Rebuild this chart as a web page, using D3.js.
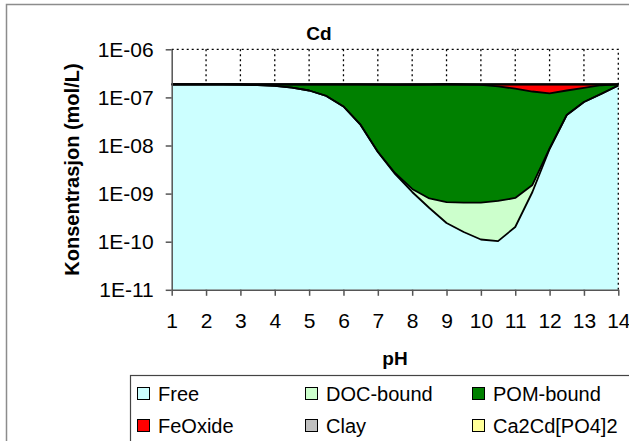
<!DOCTYPE html>
<html>
<head>
<meta charset="utf-8">
<script src="https://cdn.jsdelivr.net/npm/d3@7/dist/d3.min.js"></script>
<style>
  html, body { margin: 0; padding: 0; background: #fff; }
  svg { display: block; font-family: "Liberation Sans", Arial, sans-serif; }
</style>
</head>
<body>
<svg id="chart" width="629" height="441"></svg>
<script>
// ---- data ----
const pH = [1,1.5,2,2.5,3,3.5,4,4.5,5,5.5,6,6.5,7,7.5,8,8.5,9,9.5,10,10.5,11,11.5,12,12.5,13,13.5,14];
const free = [1.87e-7,1.87e-7,1.87e-7,1.863e-7,1.854e-7,1.793e-7,1.734e-7,1.591e-7,1.391e-7,1.07e-7,6.47e-8,2.67e-8,7.33e-9,2.56e-9,1.08e-9,5.02e-10,2.45e-10,1.59e-10,1.11e-10,1.03e-10,2.02e-10,1.08e-9,8.46e-9,4.31e-8,8.02e-8,1.18e-7,1.77e-7];
const docBound = [0,0,0,0,1e-12,2e-12,4e-12,8e-12,1.5e-11,2.5e-11,4e-11,6e-11,8e-11,1.2e-10,1.7e-10,2.9e-10,4.2e-10,4.9e-10,5.4e-10,6.0e-10,6.1e-10,4.3e-10,2.5e-10,1.5e-10,8e-11,5e-11,3e-11];
const pomBound = [0,0,0,7e-10,1.6e-9,7.7e-9,1.36e-8,2.79e-8,4.79e-8,8.0e-8,1.22e-7,1.59e-7,1.77e-7,1.79e-7,1.82e-7,1.84e-7,1.86e-7,1.85e-7,1.81e-7,1.69e-7,1.51e-7,1.31e-7,1.13e-7,9.58e-8,7.77e-8,6.1e-8,1.0e-8];
const feOxide = [0,0,0,0,0,0,0,0,0,0,0,1e-9,3e-9,5e-9,4e-9,2e-9,1e-9,1.5e-9,5e-9,1.6e-8,3.5e-8,5.4e-8,6.5e-8,4.8e-8,2.9e-8,8e-9,0];
const clay = [0,0,0,0,0,0,0,0,0,0,0,0,0,0,0,0,0,0,0,0,0,0,0,0,0,0,0];
const caPhosphate = [0,0,0,0,0,0,0,0,0,0,0,0,0,0,0,0,0,0,0,0,0,0,0,0,0,0,0];

const seriesNames = ["Free","DOC-bound","POM-bound","FeOxide","Clay","Ca2Cd[PO4]2"];
const seriesColors = ["#CCFFFF","#CCFFCC","#008000","#FF0000","#C0C0C0","#FFFF99"];
const xTickValues = [1,2,3,4,5,6,7,8,9,10,11,12,13,14];
const yTickValues = [1e-11,1e-10,1e-9,1e-8,1e-7,1e-6];
const yTickLabels = ["1E-11","1E-10","1E-09","1E-08","1E-07","1E-06"];
const chartTitle = "Cd";
const xTitle = "pH";
const yTitle = "Konsentrasjon (mol/L)";

// ---- build ----
const seriesValues = [free, docBound, pomBound, feOxide, clay, caPhosphate];
const rows = pH.map((p, i) => {
  const r = { pH: p };
  seriesNames.forEach((n, k) => r[n] = seriesValues[k][i]);
  return r;
});

const svg = d3.select("#chart");
const pLeft = 171.7, pRight = 618.3, pTop = 49.3, pBottom = 289.8;
const x = d3.scaleLinear().domain([1, 14]).range([pLeft, pRight]);
const y = d3.scaleLog().domain([1e-11, 1e-6]).range([pBottom, pTop]);

// outer chart border
svg.append("rect").attr("x", 6.5).attr("y", 4.5).attr("width", 640).attr("height", 460)
  .attr("fill", "#fff").attr("stroke", "#8c8c8c").attr("stroke-width", 1.5);

// title
svg.append("text").attr("x", 319).attr("y", 40).attr("text-anchor", "middle")
  .attr("font-size", 19).attr("font-weight", "bold").text(chartTitle);

// gridlines (vertical dotted)
svg.append("g").selectAll("line").data(xTickValues.slice(1, -1)).join("line")
  .attr("x1", d => x(d)).attr("x2", d => x(d)).attr("y1", pTop).attr("y2", pBottom)
  .attr("stroke", "#000").attr("stroke-width", 1.3).attr("stroke-dasharray", "2,3");

// stacked areas
const stack = d3.stack().keys(seriesNames);
const stacked = stack(rows);
const yb = v => v <= 0 ? y(1e-11) : y(v);
const area = d3.area().x(d => x(d.data.pH)).y0(d => yb(d[0])).y1(d => yb(d[1]));
const line = d3.line().x(d => x(d.data.pH)).y(d => yb(d[1]));

svg.append("g").selectAll("path").data(stacked).join("path")
  .attr("d", area).attr("fill", (d, i) => seriesColors[i]).attr("stroke", "none");
svg.append("g").selectAll("path").data(stacked).join("path")
  .attr("d", line).attr("fill", "none").attr("stroke", "#000").attr("stroke-width", 1.8)
  .attr("stroke-linejoin", "round");

// plot border top/right dotted
svg.append("path").attr("d", `M${pLeft},${pTop}H${pRight}V${pBottom}`)
  .attr("fill", "none").attr("stroke", "#000").attr("stroke-width", 1.3).attr("stroke-dasharray", "2,3");

// axes
const yAxis = d3.axisLeft(y).tickValues(yTickValues).tickFormat((d, i) => yTickLabels[i])
  .tickSize(6).tickSizeOuter(0).tickPadding(12);
const gy = svg.append("g").attr("transform", `translate(${pLeft},0)`).call(yAxis);
gy.selectAll("text").attr("font-size", 21).attr("fill", "#000").attr("font-family", "Liberation Sans, Arial, sans-serif");
gy.selectAll("line,path").attr("stroke", "#555").attr("stroke-width", 1.5);

const xAxis = d3.axisBottom(x).tickValues(xTickValues).tickFormat(d3.format("d"))
  .tickSize(6).tickSizeOuter(0).tickPadding(17);
const gx = svg.append("g").attr("transform", `translate(0,${pBottom})`).call(xAxis);
gx.selectAll("text").attr("font-size", 21).attr("fill", "#000").attr("font-family", "Liberation Sans, Arial, sans-serif");
gx.selectAll("line,path").attr("stroke", "#555").attr("stroke-width", 1.5);

// axis titles
svg.append("text").attr("x", (pLeft + pRight) / 2).attr("y", 365).attr("text-anchor", "middle")
  .attr("font-size", 19).attr("font-weight", "bold").text(xTitle);
svg.append("text").attr("transform", `translate(79,${(pTop + pBottom) / 2}) rotate(-90)`)
  .attr("text-anchor", "middle").attr("font-size", 20).attr("font-weight", "bold").text(yTitle);

// legend
const lg = svg.append("g");
lg.append("rect").attr("x", 130.5).attr("y", 375.5).attr("width", 520).attr("height", 80)
  .attr("fill", "#fff").attr("stroke", "#444").attr("stroke-width", 1.2);
const colX = [137, 305, 472];
const rowY = [387, 419];
seriesNames.forEach((n, i) => {
  const cx = colX[i % 3], cy = rowY[Math.floor(i / 3)];
  lg.append("rect").attr("x", cx + 0.5).attr("y", cy + 0.5).attr("width", 12).attr("height", 12)
    .attr("fill", seriesColors[i]).attr("stroke", "#000").attr("stroke-width", 1);
  lg.append("text").attr("x", cx + 21).attr("y", cy + 13.5).attr("font-size", 20).text(n);
});
</script>
</body>
</html>
